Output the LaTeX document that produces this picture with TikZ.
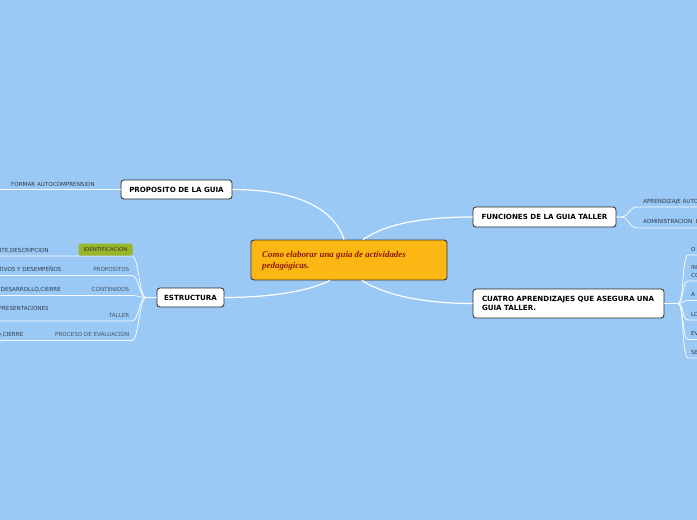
\documentclass[tikz,border=0pt]{standalone}
\usepackage{fontspec}
\setmainfont{DejaVu Sans}
\newfontfamily\cenfont{Liberation Serif}
\definecolor{bg}{RGB}{154,201,245}
\definecolor{cenfill}{RGB}{253,183,20}
\definecolor{cenedge}{RGB}{55,55,55}
\definecolor{centext}{RGB}{140,25,0}
\definecolor{subtxt}{RGB}{45,58,75}
\definecolor{childtxt}{RGB}{70,85,102}
\definecolor{hilite}{RGB}{152,182,40}
\tikzset{
  x=1pt, y=-1pt,
  conn/.style={draw=white, line width=1.2pt},
  sconn/.style={draw=white!90!bg, line width=0.8pt},
  topic/.style={draw=black!85, fill=white, rounded corners=3pt, line width=0.8pt,
    font=\fontsize{7.1}{8.6}\selectfont\bfseries, inner sep=0pt, text=black},
  small/.style={font=\fontsize{5.6}{6.5}\selectfont, inner sep=0pt, text=subtxt},
  childs/.style={font=\fontsize{5.6}{6.5}\selectfont, inner sep=0pt, text=childtxt},
}
\begin{document}
\begin{tikzpicture}
\fill[bg] (0,0) rectangle (697,520);
\useasboundingbox (0,0) rectangle (697,520);

% central
\node[draw=cenedge, fill=cenfill, rounded corners=3pt, line width=0.9pt,
  minimum width=196pt, minimum height=40pt, inner sep=0pt] (cen) at (349,260) {};
\node[anchor=north west, inner sep=0pt, align=left, text=centext,
  font=\cenfont\fontsize{8.9}{11}\selectfont\bfseries\itshape] (centxt) at (262,251.5)
  {Como elaborar una guia de actividades\\pedagógicas.};

% main topics
\node[topic, minimum width=111pt, minimum height=19pt] (prop) at (176.5,189.5) {PROPOSITO DE LA GUIA};
\node[topic, minimum width=143pt, minimum height=20pt] (fun) at (544.5,217) {FUNCIONES DE LA GUIA TALLER};
\node[topic, minimum width=191pt, minimum height=29pt, align=left, text width=185pt] (cua) at (568.5,303.5)
  {\hspace*{6pt}CUATRO APRENDIZAJES QUE ASEGURA UNA\\\hspace*{6pt}GUIA TALLER.};
\node[topic, minimum width=67pt, minimum height=19pt] (est) at (190.5,297.5) {ESTRUCTURA};

% main connectors
\draw[conn] ([xshift=-5pt]cen.north) .. controls (333,205) and (290,189.5) .. (prop.east);
\draw[conn] ([xshift=14pt]cen.north) .. controls (388,222) and (430,217) .. (fun.west);
\draw[conn] ([xshift=-19pt]cen.south) .. controls (305,293) and (262,297.5) .. (est.east);
\draw[conn] ([xshift=13pt]cen.south) .. controls (388,297) and (430,303.5) .. (cua.west);

% PROPOSITO child
\coordinate (p0) at (-2,189.5);
\draw[sconn] (prop.west) -- (p0);
\node[small, anchor=base west] (fa) at (11,186) {FORMAR AUTOCOMPRENSION};

% ESTRUCTURA children
\coordinate (ej) at (146,297.5);
\foreach \yy/\nm in {256/e1, 275.5/e2, 295.5/e3, 321/e4, 340.5/e5}{
  \coordinate (\nm) at (-2,\yy);
  \draw[sconn] (est.west) -- (ej) .. controls (139,297.5) and (139,\yy) .. (132,\yy) -- (\nm);
}
\node[fill=hilite, rounded corners=1.5pt, minimum width=54pt, minimum height=12pt, inner sep=0pt,
  font=\fontsize{5.4}{6}\selectfont, text=black!80] (iden) at (105.5,249.5) {IDENTIFICACION};
\node[small, anchor=base west] (g1) at (-3,252) {NTE,DESCRIPCION};
\node[childs, anchor=base east] (c2) at (129.5,271.5) {PROPOSITOS};
\node[small, anchor=base west] (g2) at (-1.5,271.5) {TIVOS Y DESEMPEÑOS};
\node[childs, anchor=base east] (c3) at (129.5,291.5) {CONTENIDOS};
\node[small, anchor=base west] (g3) at (0.5,291.5) {DESARROLLO,CIERRE};
\node[childs, anchor=base east] (c4) at (129.5,317.5) {TALLER};
\node[small, anchor=base west] (g4) at (-1.5,310.5) {PRESENTACIONES};
\node[childs, anchor=base east] (c5) at (129.5,336.5) {PROCESO DE EVALUACION};
\node[small, anchor=base west] (g5) at (-3.5,336.5) {O,CIERRE};

% FUNCIONES children
\coordinate (fj) at (621,217);
\foreach \yy/\nm in {207/f1, 228/f2}{
  \coordinate (\nm) at (699,\yy);
  \draw[sconn] (fun.east) -- (fj) .. controls (629,217) and (629,\yy) .. (637,\yy) -- (\nm);
}
\node[small, anchor=base west] (fa1) at (643,203.5) {APRENDIZAJE AUTO};
\node[small, anchor=base west] (fa2) at (643,223.5) {ADMINISTRACION\ \ D};

% CUATRO children
\coordinate (cj) at (678,303.5);
\foreach \yy/\nm in {255/k1, 281/k2, 300.5/k3, 320/k4, 339.5/k5, 358/k6}{
  \coordinate (\nm) at (699,\yy);
  \draw[sconn] (cua.east) -- (cj) .. controls (684,303.5) and (682,\yy) .. (688,\yy) -- (\nm);
}
\node[small, anchor=base west] (k1t) at (691,251) {O};
\node[small, anchor=base west] (k2a) at (691,269) {IN};
\node[small, anchor=base west] (k2b) at (691,277) {CO};
\node[small, anchor=base west] (k3t) at (691,296.5) {A};
\node[small, anchor=base west] (k4t) at (691,316) {LO};
\node[small, anchor=base west] (k5t) at (691,335.5) {EV};
\node[small, anchor=base west] (k6t) at (691,354) {SE};
\end{tikzpicture}
\end{document}
